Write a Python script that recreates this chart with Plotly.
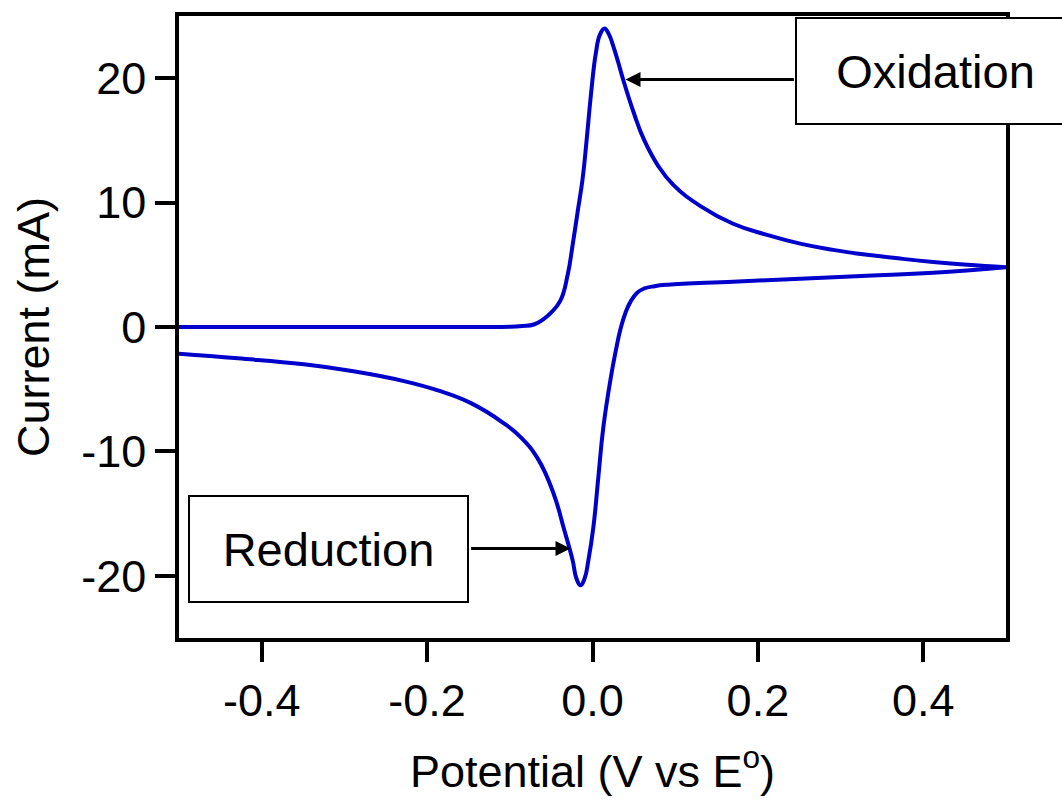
import plotly.graph_objects as go

# ---- data ----
fwd_v = [-0.5, -0.3, -0.15, -0.1, -0.085, -0.071, -0.06, -0.051, -0.039,
         -0.030, -0.024, -0.018, -0.012, -0.007, -0.002, 0.004, 0.009, 0.0145, 0.020,
         0.025, 0.031, 0.037, 0.050, 0.062, 0.079, 0.098, 0.131, 0.170, 0.211, 0.251,
         0.291, 0.332, 0.372, 0.412, 0.453, 0.5]
fwd_i = [0.0, 0.0, 0.0, 0.02, 0.08, 0.2, 0.6, 1.1, 2.1,
         4.2, 6.6, 9.24, 11.9, 15.1, 18.6, 22.0, 23.5, 24.0, 23.5,
         22.6, 21.3, 19.9, 17.2, 15.1, 13.0, 11.4, 9.7, 8.3, 7.4, 6.7,
         6.2, 5.8, 5.5, 5.23, 5.0, 4.8]

rev_v = [0.5, 0.412, 0.332, 0.251, 0.170, 0.091, 0.075, 0.062, 0.054, 0.046, 0.040,
         0.034, 0.028, 0.022, 0.013, 0.007, 0.001, -0.005, -0.0095, -0.0145, -0.0195,
         -0.024, -0.035, -0.047, -0.066, -0.087, -0.108, -0.147, -0.187, -0.228,
         -0.289, -0.349, -0.429, -0.5]
rev_i = [4.8, 4.36, 4.12, 3.88, 3.64, 3.4, 3.28, 3.08, 2.76, 2.04, 1.16,
         -0.12, -1.96, -4.12, -8.12, -12.12, -16.12, -18.76, -20.2, -20.76, -20.2,
         -18.76, -16.12, -13.4, -10.6, -8.85, -7.7, -6.12, -5.1, -4.35,
         -3.56, -3.0, -2.52, -2.15]

x_tickvals = [-0.4, -0.2, 0.0, 0.2, 0.4]
x_ticktext = ["-0.4", "-0.2", "0.0", "0.2", "0.4"]
y_tickvals = [-20, -10, 0, 10, 20]
y_ticktext = ["-20", "-10", "0", "10", "20"]

ox_label = "Oxidation"
ox_point = (0.0399, 19.9)
ox_tail_v = 0.2453
red_label = "Reduction"
red_point = (-0.0266, -17.8)
red_tail_v = -0.1486

FONT = "Liberation Sans, Arial, sans-serif"
BLUE = "#0000CC"

v_all = fwd_v + rev_v
i_all = fwd_i + rev_i

fig = go.Figure()
fig.add_trace(go.Scatter(
    x=v_all, y=i_all, mode="lines",
    line=dict(color=BLUE, width=4, shape="spline", smoothing=1.3),
    showlegend=False, hoverinfo="skip",
))

axis_common = dict(
    showgrid=False, zeroline=False,
    showline=True, linecolor="black", linewidth=3.5, mirror=True,
    ticks="outside", ticklen=20, tickwidth=3.5, tickcolor="black",
    tickfont=dict(family=FONT, size=45, color="black"),
)

fig.update_layout(
    width=1062, height=803,
    margin=dict(l=179, r=56, t=13, b=165),
    paper_bgcolor="white", plot_bgcolor="white",
    xaxis=dict(range=[-0.5, 0.5], tickvals=x_tickvals, ticktext=x_ticktext,
               title=dict(text="Potential (V vs E<sup>o</sup>)",
                          font=dict(family=FONT, size=45, color="black"), standoff=32),
               **axis_common),
    yaxis=dict(range=[-25, 25], tickvals=y_tickvals, ticktext=y_ticktext,
               title=dict(text="Current (mA)",
                          font=dict(family=FONT, size=45, color="black"), standoff=18),
               **axis_common),
)

# arrows
for pt, tail in ((ox_point, ox_tail_v), (red_point, red_tail_v)):
    fig.add_annotation(x=pt[0], y=pt[1], ax=tail, ay=pt[1],
                       xref="x", yref="y", axref="x", ayref="y", text="",
                       showarrow=True, arrowhead=2, arrowsize=1, arrowwidth=3,
                       arrowcolor="black", standoff=0)

# label boxes
box_style = dict(showarrow=False, bgcolor="white", bordercolor="black", borderwidth=2,
                 borderpad=0, width=277, height=104, align="center", valign="middle",
                 font=dict(family=FONT, size=47, color="black"))
fig.add_annotation(x=(935.5 - 179) / 827, y=(638 - 68) / 625, xref="paper", yref="paper",
                   xanchor="center", yanchor="middle", text=ox_label, **box_style)
fig.add_annotation(x=(328.5 - 179) / 827, y=(638 - 549) / 625, xref="paper", yref="paper",
                   xanchor="center", yanchor="middle", text=red_label, **box_style)

fig.write_html("out.html")
